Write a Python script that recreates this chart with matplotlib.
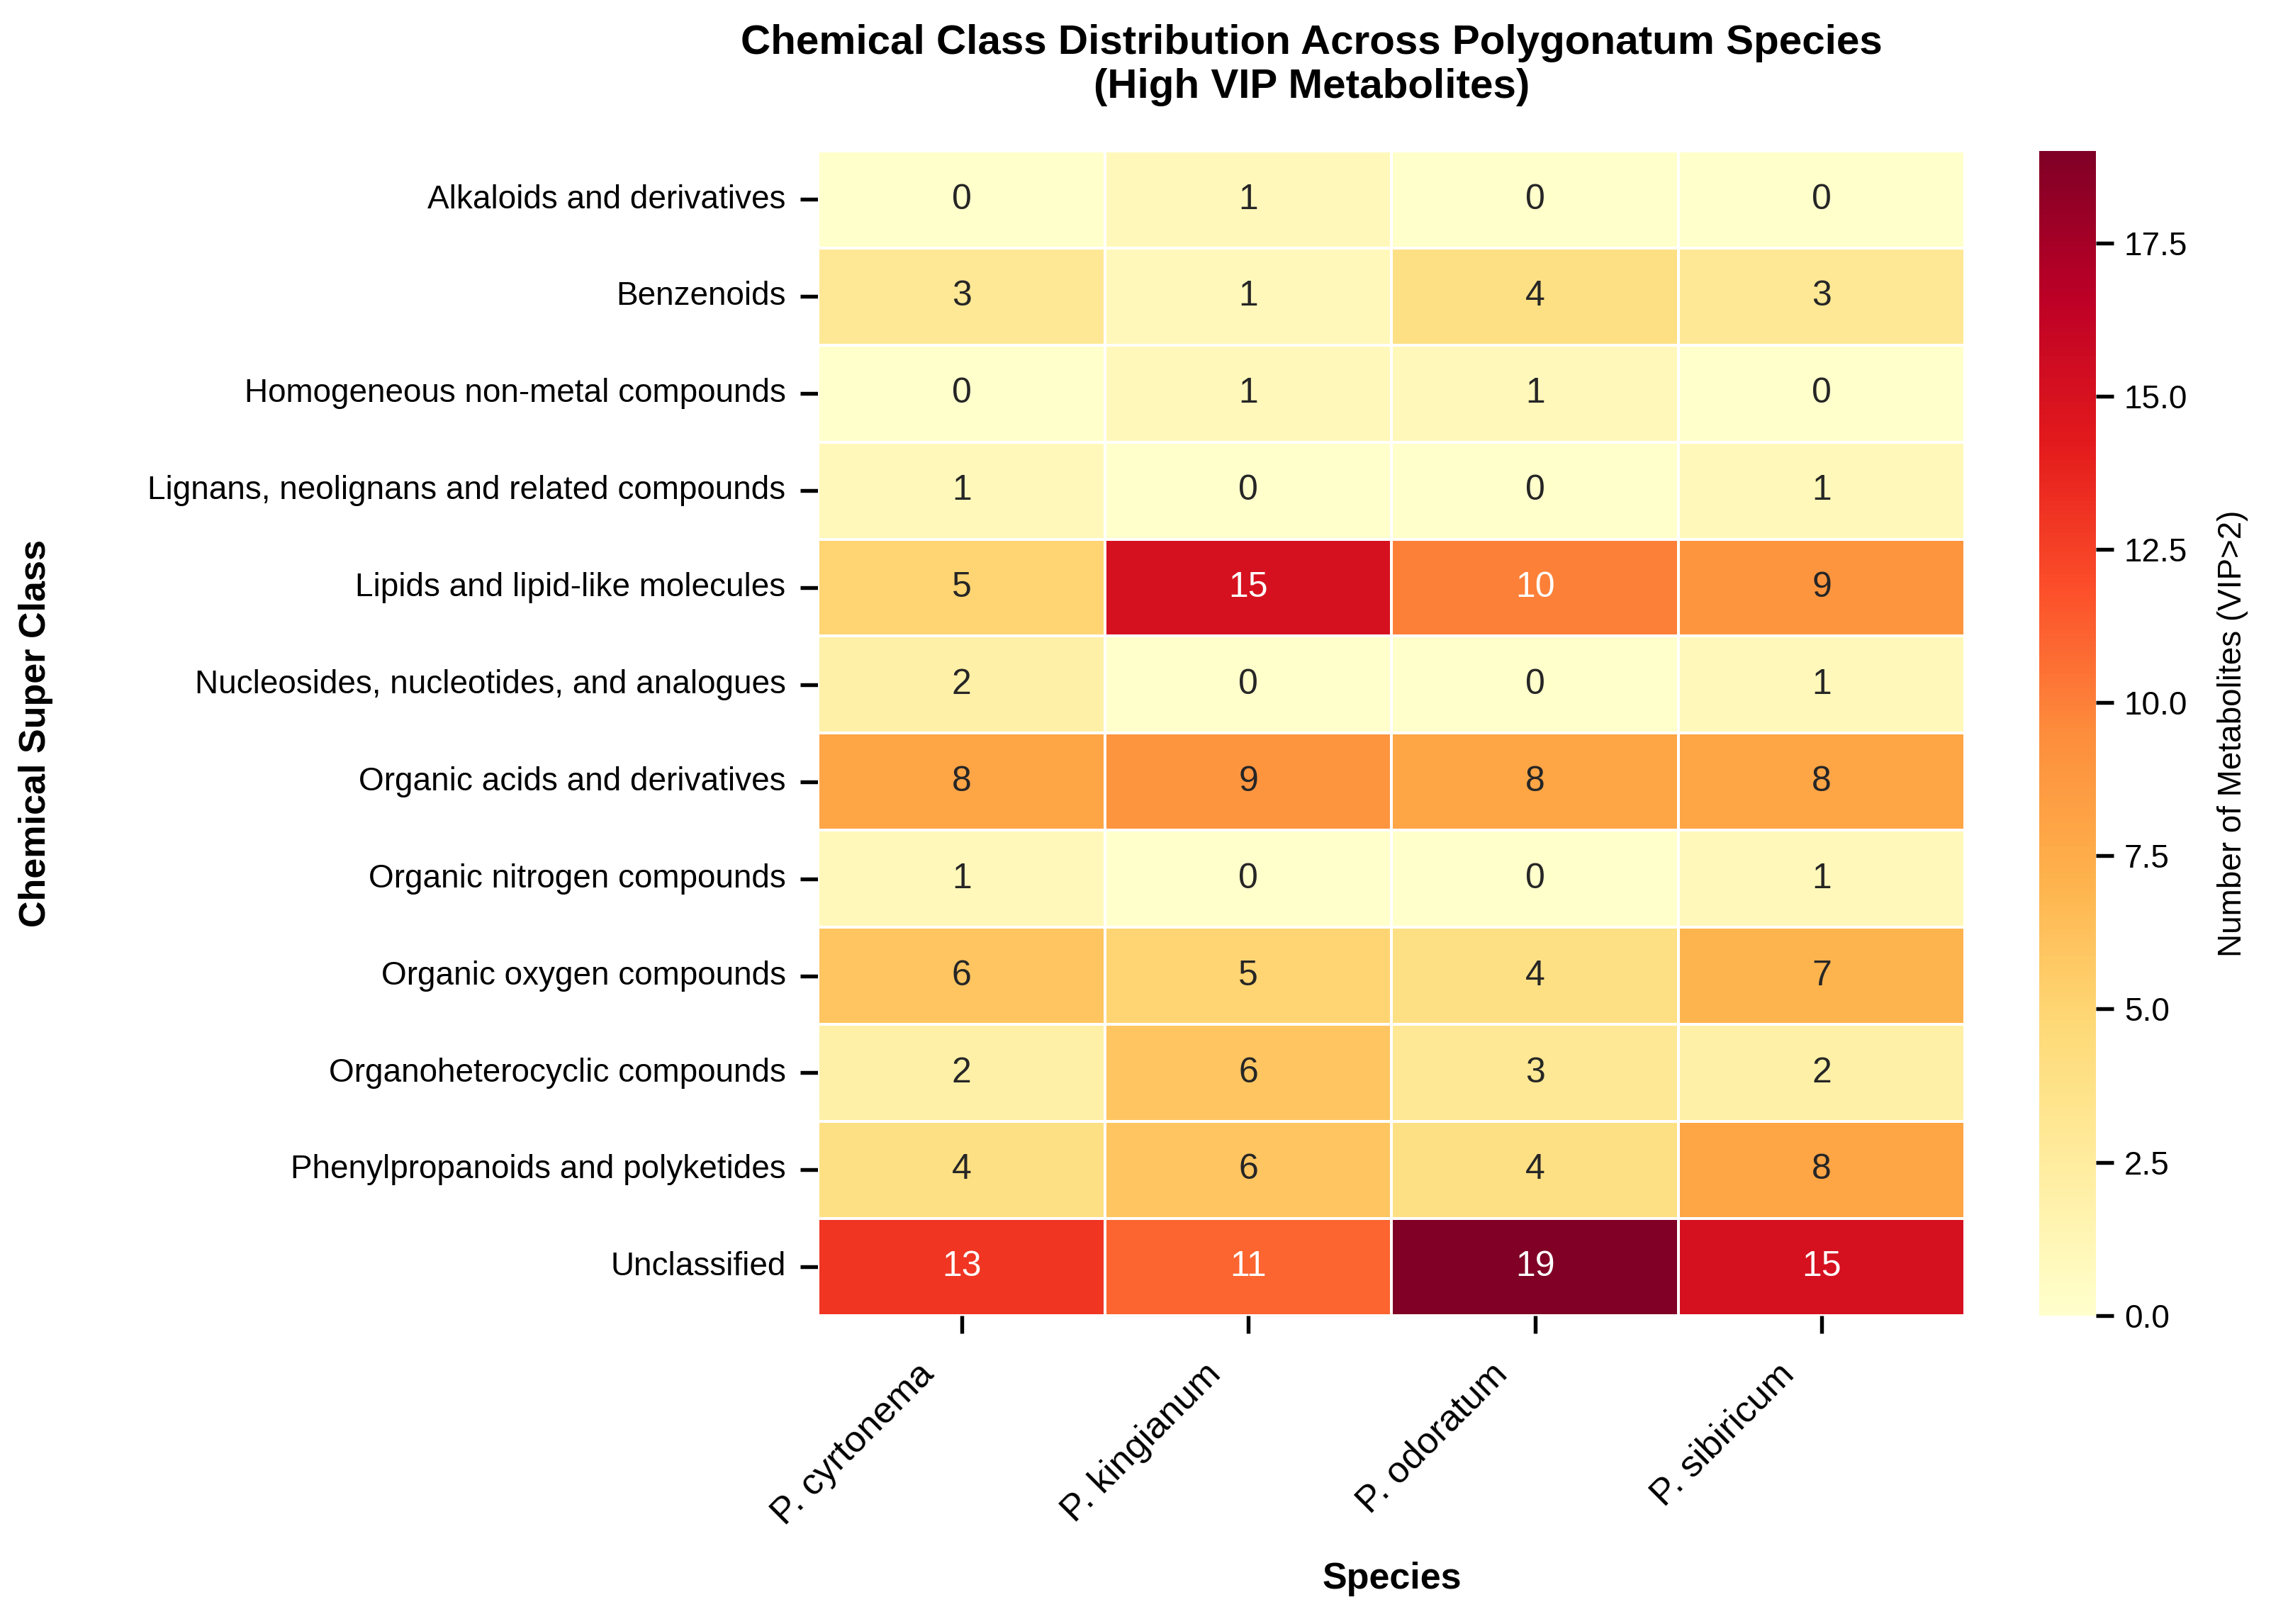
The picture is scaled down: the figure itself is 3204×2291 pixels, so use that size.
import numpy as np
import pandas as pd
import seaborn as sns
import matplotlib
matplotlib.use("Agg")
from matplotlib import pyplot as plt
from matplotlib.transforms import ScaledTranslation

# dados
species = ["P. cyrtonema", "P. kingianum", "P. odoratum", "P. sibiricum"]
classes = [
    "Alkaloids and derivatives",
    "Benzenoids",
    "Homogeneous non-metal compounds",
    "Lignans, neolignans and related compounds",
    "Lipids and lipid-like molecules",
    "Nucleosides, nucleotides, and analogues",
    "Organic acids and derivatives",
    "Organic nitrogen compounds",
    "Organic oxygen compounds",
    "Organoheterocyclic compounds",
    "Phenylpropanoids and polyketides",
    "Unclassified",
]
cyrtonema = [0, 3, 0, 1, 5, 2, 8, 1, 6, 2, 4, 13]
kingianum = [1, 1, 1, 0, 15, 0, 9, 0, 5, 6, 6, 11]
odoratum = [0, 4, 1, 0, 10, 0, 8, 0, 4, 3, 4, 19]
sibiricum = [0, 3, 0, 1, 9, 1, 8, 1, 7, 2, 8, 15]

df = pd.DataFrame(
    {species[0]: cyrtonema, species[1]: kingianum,
     species[2]: odoratum, species[3]: sibiricum},
    index=classes,
)

sns.set_style("ticks")
plt.rcParams['font.family'] = ['Liberation Sans', 'DejaVu Sans']
plt.rcParams['text.color'] = 'black'
plt.rcParams['axes.labelcolor'] = 'black'
plt.rcParams['xtick.color'] = 'black'
plt.rcParams['ytick.color'] = 'black'

fig = plt.figure(figsize=(10.68, 7.637), dpi=300)
ax = fig.add_axes([0.3603, 0.19, 0.505, 0.717])
cax = fig.add_axes([0.898, 0.19, 0.025, 0.717])

sns.heatmap(df, ax=ax, cbar_ax=cax, cmap="YlOrRd", vmin=0, vmax=19,
            annot=True, fmt="d", annot_kws={"size": 12},
            linewidths=0.5, linecolor="white",
            cbar_kws={"label": "Number of Metabolites (VIP>2)"})

ax.set_title("Chemical Class Distribution Across Polygonatum Species\n(High VIP Metabolites)",
             fontsize=14, fontweight="bold", pad=18, x=0.43)
ax.set_xlabel("Species", fontsize=12.5, fontweight="bold", labelpad=10)
ax.set_ylabel("Chemical Super Class", fontsize=12.5, fontweight="bold", labelpad=32)
ax.tick_params(axis="y", labelsize=11, length=6, width=1.3, pad=5)
ax.tick_params(axis="x", labelsize=12.5, length=6, width=1.3, pad=8)
plt.setp(ax.get_xticklabels(), rotation=45, ha="right")
plt.setp(ax.get_yticklabels(), rotation=0)
# desloca um pouco os rotulos do eixo x para a esquerda
shift = ScaledTranslation(-7 / 72, 0, fig.dpi_scale_trans)
for lbl in ax.get_xticklabels():
    lbl.set_transform(lbl.get_transform() + shift)

cax.tick_params(labelsize=11, length=6, width=1.3)
cax.set_ylabel("Number of Metabolites (VIP>2)", fontsize=11, labelpad=10)
cax.set_yticks(np.arange(0, 19, 2.5))

fig.savefig("out.png", dpi=300)
